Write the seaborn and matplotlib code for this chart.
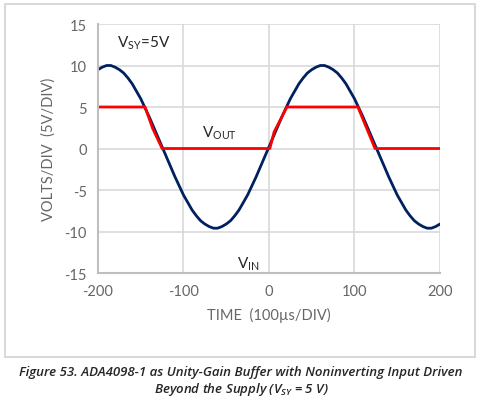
import numpy as np
import pandas as pd
import matplotlib
matplotlib.use("Agg")
import matplotlib.pyplot as plt
import seaborn as sns
from matplotlib.patches import Rectangle

# input sine, every 5 us
t_in = list(range(-200, 205, 5))
v_in = [9.5, 9.8, 10.0, 10.0, 9.8, 9.5, 9.1, 8.5, 7.8, 6.9,
        6.0, 4.9, 3.8, 2.6, 1.4, 0.2, -1.0, -2.2, -3.4, -4.5,
        -5.6, -6.5, -7.4, -8.1, -8.7, -9.1, -9.4, -9.6, -9.6, -9.4,
        -9.1, -8.7, -8.1, -7.4, -6.5, -5.6, -4.5, -3.4, -2.2, -1.0,
        0.2,
        1.4, 2.6, 3.8, 4.9, 6.0, 6.9, 7.8, 8.5, 9.1, 9.5,
        9.8, 10.0, 10.0, 9.8, 9.5, 9.1, 8.5, 7.8, 6.9, 6.0,
        4.9, 3.8, 2.6, 1.4, 0.2, -1.0, -2.2, -3.4, -4.5, -5.6,
        -6.5, -7.4, -8.1, -8.7, -9.1, -9.4, -9.6, -9.6, -9.4, -9.1]

# clipped output
t_out = [-200, -145, -136, -125, 1, 6, 21, 104, 124, 200]
v_out = [5, 5, 2.4, 0, 0, 2.0, 5, 5, 0, 0]

x_ticks = [-200, -100, 0, 100, 200]
y_ticks = [-15, -10, -5, 0, 5, 10, 15]

df_in = pd.DataFrame({"t": t_in, "v": v_in})
df_out = pd.DataFrame({"t": t_out, "v": v_out})

sns.set_style("white")
plt.rcParams["font.family"] = ["Lato", "DejaVu Sans"]
plt.rcParams["axes.unicode_minus"] = False

fig = plt.figure(figsize=(4.82, 4.06), dpi=100)
ax = fig.add_axes([0.2033, 0.3251, 0.7095, 0.6133])

sns.lineplot(data=df_in, x="t", y="v", ax=ax, color="#002060", lw=2.0,
             sort=False, estimator=None)
sns.lineplot(data=df_out, x="t", y="v", ax=ax, color="#ff0000", lw=2.0,
             sort=False, estimator=None)

ax.set_xlim(-200, 200)
ax.set_ylim(-15, 15)
ax.set_xticks(x_ticks)
ax.set_yticks(y_ticks)
ax.grid(True, color="#d9d9d9", lw=1.2)
ax.set_axisbelow(True)
for s in ["top", "right"]:
    ax.spines[s].set_visible(False)
for s in ["left", "bottom"]:
    ax.spines[s].set_color("#bfbfbf")
    ax.spines[s].set_linewidth(1.5)
ax.tick_params(axis="both", length=0, labelsize=10.5, colors="#666666", pad=8)

ax.set_xlabel("TIME  (100\u00b5s/DIV)", fontsize=10.5, color="#666666", labelpad=6)
ax.set_ylabel("VOLTS/DIV  (5V/DIV)", fontsize=10.5, color="#666666", labelpad=6)

ax.text(-178, 12.8, r"V$_{\mathregular{SY}}$=5V", fontsize=11, va="center")
ax.text(-78, 2.0, r"V$_{\mathregular{OUT}}$", fontsize=11, va="center")
ax.text(-37, -13.8, r"V$_{\mathregular{IN}}$", fontsize=11, va="center")

# chart frame
fig.patches.append(Rectangle((5 / 482, 1 - 358 / 406), 470 / 482, 353 / 406,
                             transform=fig.transFigure, fill=False,
                             edgecolor="#d9d9d9", lw=1.5))

fig.text(0.5, 1 - 373 / 406,
         "Figure 53. ADA4098-1 as Unity-Gain Buffer with Noninverting Input Driven",
         ha="center", va="center", fontsize=9.5, style="italic", weight="semibold",
         family=["Open Sans", "DejaVu Sans"])
fig.text(0.5, 1 - 390 / 406,
         r"Beyond the Supply (V$_{\mathregular{SY}}$ = 5 V)",
         ha="center", va="center", fontsize=9.5, style="italic", weight="semibold",
         family=["Open Sans", "DejaVu Sans"])

fig.savefig("out.png", dpi=100)
